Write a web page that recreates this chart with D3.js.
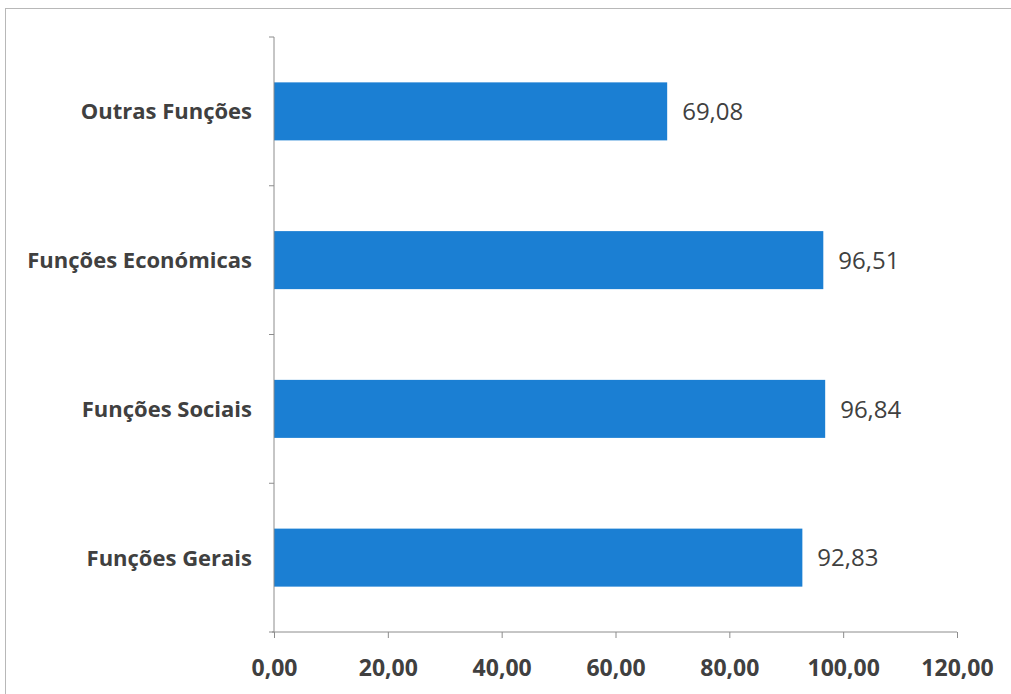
<!doctype html>
<html>
<head>
<meta charset="utf-8">
<title>Funções</title>
<script src="https://cdn.jsdelivr.net/npm/d3@7"></script>
<style>
  body { margin: 0; background: #fff; }
  text { font-family: "Open Sans", Lato, sans-serif; fill: #404040; }
</style>
</head>
<body>
<svg id="chart" width="1011" height="694"></svg>
<script>
// data
var categories = ["Outras Funções", "Funções Económicas", "Funções Sociais", "Funções Gerais"];
var values = [69.08, 96.51, 96.84, 92.83];
var xTicks = [0, 20, 40, 60, 80, 100, 120];

var svg = d3.select("#chart");

// outer frame
svg.append("rect")
  .attr("x", 5.5).attr("y", 8.5)
  .attr("width", 1010).attr("height", 700)
  .attr("fill", "none")
  .attr("stroke", "#b8b8b8");

var plotL = 274, plotR = 957, plotT = 37, plotB = 632;

var x = d3.scaleLinear().domain([0, 120]).range([plotL, plotR]);
var y = d3.scaleBand().domain(categories).range([plotT, plotB]).paddingInner(0.61).paddingOuter(0.305);
var band = d3.scaleBand().domain(categories).range([plotT, plotB]);

var fmt = function(v) { return d3.format(".2f")(v).replace(".", ","); };

// bars
svg.selectAll("rect.bar")
  .data(values)
  .enter().append("rect")
  .attr("class", "bar")
  .attr("x", x(0))
  .attr("y", function(d, i) { return y(categories[i]); })
  .attr("width", function(d) { return x(d) - x(0); })
  .attr("height", y.bandwidth())
  .attr("fill", "#1b7fd3");

// value labels
svg.selectAll("text.val")
  .data(values)
  .enter().append("text")
  .attr("class", "val")
  .attr("x", function(d) { return x(d) + 15; })
  .attr("y", function(d, i) { return y(categories[i]) + y.bandwidth() / 2; })
  .attr("dy", "0.36em")
  .style("font-size", "24px")
  .text(fmt);

// y axis line and ticks at band boundaries
var yAxis = svg.append("g");
yAxis.append("line")
  .attr("x1", plotL).attr("x2", plotL)
  .attr("y1", plotT).attr("y2", plotB)
  .attr("stroke", "#8c8c8c");
var edges = categories.map(function(c) { return band(c); }).concat([plotB]);
yAxis.selectAll("line.tk")
  .data(edges)
  .enter().append("line")
  .attr("class", "tk")
  .attr("x1", plotL - 5).attr("x2", plotL)
  .attr("y1", function(d) { return d; }).attr("y2", function(d) { return d; })
  .attr("stroke", "#8c8c8c");

// category labels
svg.selectAll("text.cat")
  .data(categories)
  .enter().append("text")
  .attr("class", "cat")
  .attr("x", 252)
  .attr("y", function(c) { return y(c) + y.bandwidth() / 2; })
  .attr("dy", "0.36em")
  .attr("text-anchor", "end")
  .style("font-size", "22px")
  .style("font-weight", "bold")
  .text(function(c) { return c; });

// x axis
var xAxis = svg.append("g")
  .attr("transform", "translate(0," + plotB + ")")
  .call(d3.axisBottom(x).tickValues(xTicks).tickSize(6).tickPadding(22).tickFormat(fmt));
xAxis.select(".domain").attr("stroke", "#8c8c8c").attr("d", "M" + (plotL - 2) + ",0H" + plotR);
xAxis.selectAll(".tick line").attr("stroke", "#8c8c8c");
xAxis.selectAll(".tick text")
  .style("font-size", "23px")
  .style("font-weight", "bold")
  .attr("fill", "#404040")
  .style("font-family", "'Open Sans', Lato, sans-serif");
</script>
</body>
</html>
